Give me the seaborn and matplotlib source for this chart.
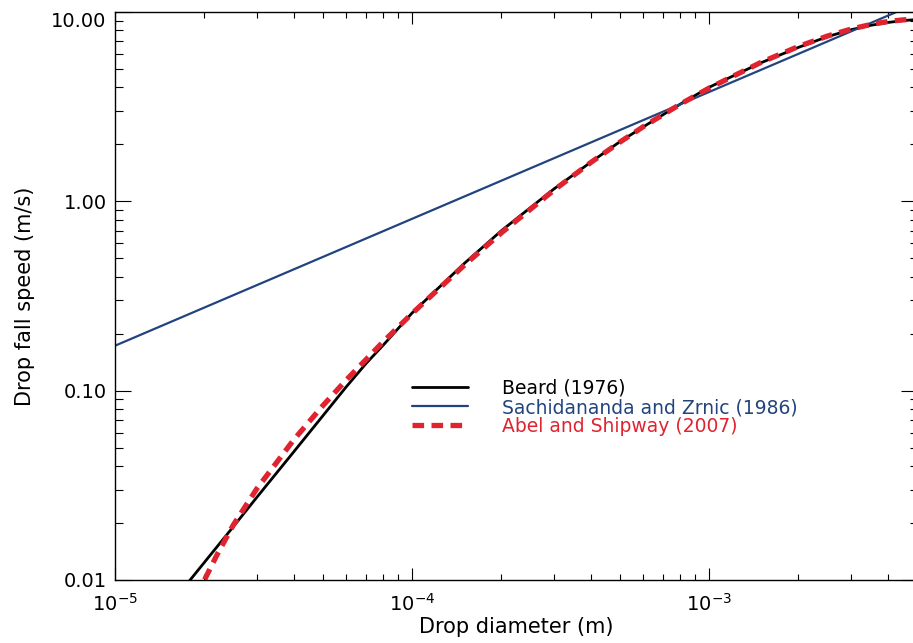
import matplotlib
matplotlib.use("Agg")
import matplotlib.pyplot as plt
from matplotlib.lines import Line2D
from matplotlib.ticker import FixedLocator, FormatStrFormatter, LogLocator, NullFormatter
import seaborn as sns
import pandas as pd
import numpy as np

# values (diameter in m, fall speed in m/s)
beard_d = [1.5e-5, 2e-5, 2.5e-5, 3e-5, 4e-5, 5e-5, 6e-5, 7e-5, 8e-5, 1e-4, 1.5e-4, 2e-4,
           3e-4, 4e-4, 5e-4, 6e-4, 8e-4, 1e-3, 1.5e-3, 2e-3, 2.5e-3, 3e-3, 3.5e-3,
           4e-3, 4.5e-3, 5e-3]
beard_v = [0.0071, 0.0124, 0.0191, 0.0273, 0.0476, 0.0734, 0.1046, 0.1391, 0.174, 0.257, 0.47, 0.70,
           1.16, 1.61, 2.06, 2.47, 3.26, 4.00, 5.40, 6.50, 7.40, 8.05, 8.50,
           8.80, 9.00, 9.12]

sz_d = [1e-5, 1e-4, 1e-3, 5e-3]
sz_v = [0.1727, 0.808, 3.778, 11.10]

abel_d = [1.9e-5, 2e-5, 2.2e-5, 2.5e-5, 3e-5, 4e-5, 5e-5, 6e-5, 8e-5, 1e-4, 1.5e-4, 2e-4,
          3e-4, 4e-4, 5e-4, 6e-4, 8e-4, 1e-3, 1.5e-3, 2e-3, 2.5e-3, 3e-3, 3.5e-3,
          4e-3, 4.5e-3, 5e-3]
abel_v = [0.0081, 0.0100, 0.0135, 0.0195, 0.0303, 0.0551, 0.0831, 0.1137, 0.1814, 0.2555, 0.460, 0.682,
          1.143, 1.604, 2.050, 2.475, 3.258, 3.960, 5.428, 6.572, 7.453, 8.113, 8.586,
          8.901, 9.083, 9.155]

labels = ["Beard (1976)", "Sachidananda and Zrnic (1986)", "Abel and Shipway (2007)"]
colors = ["#000000", "#22447e", "#e0242f"]
widths = [2.0, 1.6, 3.8]
dashes = ["", "", (2.2, 1.4)]

yticks = [0.01, 0.1, 1.0, 10.0]

df = pd.concat([
    pd.DataFrame({"d": beard_d, "v": beard_v, "model": labels[0]}),
    pd.DataFrame({"d": sz_d, "v": sz_v, "model": labels[1]}),
    pd.DataFrame({"d": abel_d, "v": abel_v, "model": labels[2]}),
], ignore_index=True)

sns.set_style("ticks")
plt.rcParams["font.family"] = ["DejaVu Sans"]

fig = plt.figure(figsize=(9.13, 6.43), dpi=100)
ax = fig.add_axes([0.126, 0.098, 0.878, 0.8834])

sns.lineplot(data=df, x="d", y="v", hue="model", hue_order=labels,
             palette=dict(zip(labels, colors)),
             size="model", size_order=labels, sizes=dict(zip(labels, widths)),
             style="model", style_order=labels, dashes=dict(zip(labels, dashes)),
             sort=False, estimator=None, legend=False, ax=ax)

ax.set_xscale("log")
ax.set_yscale("log")
ax.set_xlim(1e-5, 5e-3)
ax.set_ylim(0.01, 10)

ax.yaxis.set_major_locator(FixedLocator(yticks))
ax.yaxis.set_major_formatter(FormatStrFormatter("%.2f"))
ax.yaxis.set_minor_locator(LogLocator(base=10, subs=np.arange(2, 10), numticks=20))
ax.yaxis.set_minor_formatter(NullFormatter())
ax.xaxis.set_major_locator(LogLocator(base=10, numticks=20))
ax.xaxis.set_minor_locator(LogLocator(base=10, subs=np.arange(2, 10), numticks=20))
ax.xaxis.set_minor_formatter(NullFormatter())

ax.tick_params(which="both", direction="in", top=True, right=True,
               labelsize=14, colors="black", width=0.8)
ax.tick_params(axis="x", which="major", length=8.6, pad=9)
ax.tick_params(axis="x", which="minor", length=4.3)
ax.tick_params(axis="y", which="major", length=11.5, pad=6)
ax.tick_params(axis="y", which="minor", length=5.4)
for s in ax.spines.values():
    s.set_linewidth(1.0)
    s.set_color("black")

ax.set_xlabel("Drop diameter (m)", fontsize=15, labelpad=2, color="black")
ax.set_ylabel("Drop fall speed (m/s)", fontsize=15, labelpad=12, color="black")

# IDL puts the top label inside the frame
ax.yaxis.get_major_ticks()[-1].label1.set_verticalalignment("top")

handles = [Line2D([], [], color=c, lw=w) for c, w in zip(colors, widths)]
handles[2].set_dashes(dashes[2])
leg = ax.legend(handles=handles, labels=labels, loc="upper left",
                bbox_to_anchor=(412 / 913, 1 - 379 / 643), bbox_transform=fig.transFigure,
                frameon=False, fontsize=13.5, handlelength=3.0, handletextpad=1.8,
                labelspacing=0.0, borderpad=0, borderaxespad=0, labelcolor="linecolor")

fig.savefig("out.png", dpi=100)
